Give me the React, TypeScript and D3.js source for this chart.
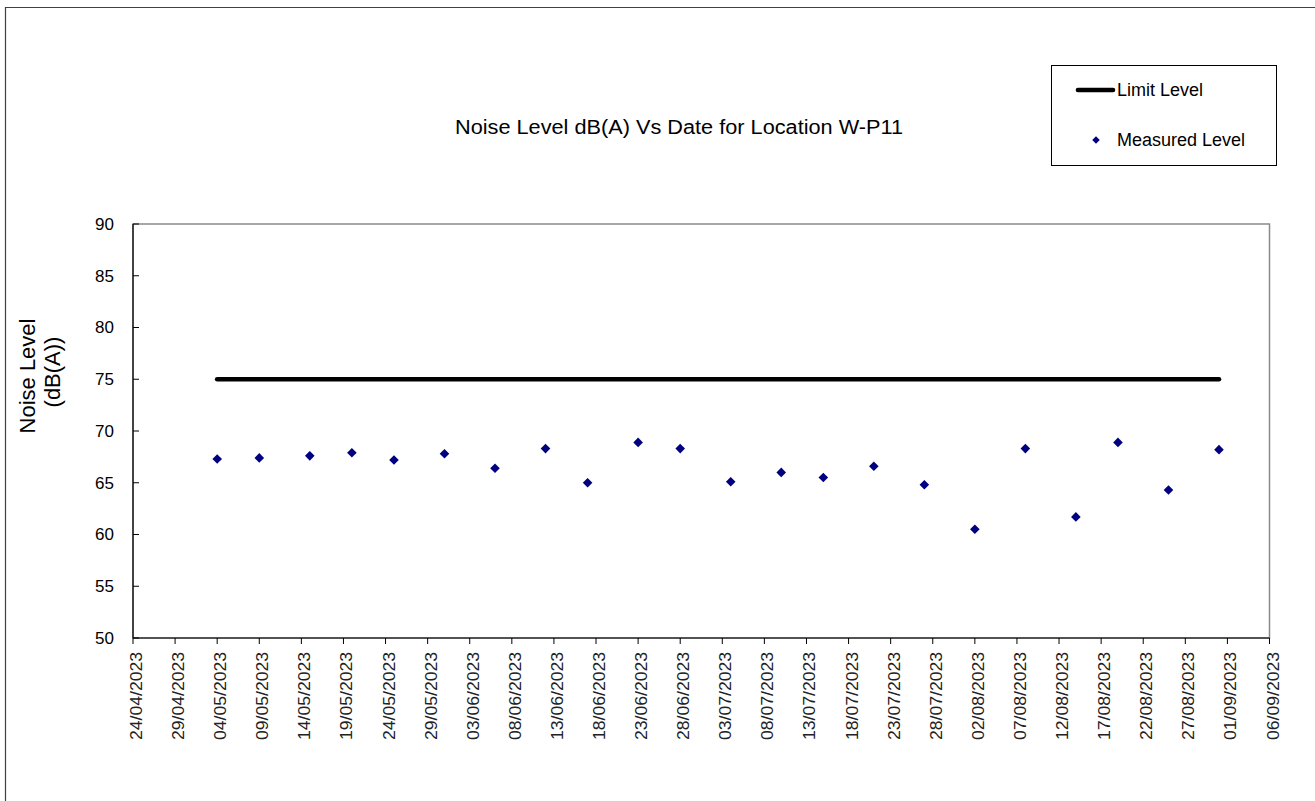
import React from "react";
import * as d3 from "d3";

const measureDates = ["04/05/2023","09/05/2023","15/05/2023","20/05/2023","25/05/2023","31/05/2023","06/06/2023","12/06/2023","17/06/2023","23/06/2023","28/06/2023","04/07/2023","10/07/2023","15/07/2023","21/07/2023","27/07/2023","02/08/2023","08/08/2023","14/08/2023","19/08/2023","25/08/2023","31/08/2023"];
const measuredLevel = [67.3,67.4,67.6,67.9,67.2,67.8,66.4,68.3,65.0,68.9,68.3,65.1,66.0,65.5,66.6,64.8,60.5,68.3,61.7,68.9,64.3,68.2];
const limitLevel = [75,75,75,75,75,75,75,75,75,75,75,75,75,75,75,75,75,75,75,75,75,75];
const xTickLabels = ["24/04/2023","29/04/2023","04/05/2023","09/05/2023","14/05/2023","19/05/2023","24/05/2023","29/05/2023","03/06/2023","08/06/2023","13/06/2023","18/06/2023","23/06/2023","28/06/2023","03/07/2023","08/07/2023","13/07/2023","18/07/2023","23/07/2023","28/07/2023","02/08/2023","07/08/2023","12/08/2023","17/08/2023","22/08/2023","27/08/2023","01/09/2023","06/09/2023"];
const yTicks = [50,55,60,65,70,75,80,85,90];

const parse = d3.utcParse("%d/%m/%Y");
const FONT = "'Liberation Sans', Arial, sans-serif";

export default function App() {
  const left = 133, right = 1269.5, top = 224, bottom = 638;
  const tickDates = xTickLabels.map((s) => parse(s) as Date);
  const x = d3.scaleUtc().domain([tickDates[0], tickDates[tickDates.length - 1]]).range([left, right]);
  const y = d3.scaleLinear().domain([50, 90]).range([bottom, top]);
  const pts = measureDates.map((s, i) => ({ d: parse(s) as Date, v: measuredLevel[i], l: limitLevel[i] }));
  const line = d3.line<any>().x((p) => x(p.d)).y((p) => y(p.l));
  const diamond = d3.symbol().type(d3.symbolSquare).size(46)() as string;
  const diamondLegend = d3.symbol().type(d3.symbolSquare).size(28)() as string;

  return (
    <svg width={1315} height={801} style={{ position: "absolute", left: 0, top: 0, background: "#fff" }} fontFamily={FONT}>
      <rect x={0} y={0} width={1315} height={801} fill="#fff" />
      <path d="M5.5,801 V7.5 H1315" fill="none" stroke="#404040" strokeWidth={1.2} />

      <text x={679} y={134} textAnchor="middle" fontSize={20} textLength={448} lengthAdjust="spacingAndGlyphs" fill="#000">
        Noise Level dB(A) Vs Date for Location W-P11
      </text>

      {/* plot area border */}
      <rect x={left} y={top} width={right - left} height={bottom - top} fill="none" stroke="#8a8a8a" strokeWidth={1.5} />
      <line x1={left} x2={left} y1={top} y2={bottom} stroke="#000" strokeWidth={1.2} />
      <line x1={left} x2={right} y1={bottom} y2={bottom} stroke="#000" strokeWidth={1.2} />

      {yTicks.map((t) => (
        <g key={t}>
          <line x1={left} x2={left + 6} y1={y(t)} y2={y(t)} stroke="#000" strokeWidth={1} />
          <text x={114} y={y(t)} dy="0.35em" textAnchor="end" fontSize={17} fill="#000">{t}</text>
        </g>
      ))}

      {tickDates.map((d, i) => (
        <g key={i}>
          <line x1={x(d)} x2={x(d)} y1={bottom} y2={bottom + 6} stroke="#000" strokeWidth={1} />
          <text transform={`translate(${x(d) + 9},652) rotate(-90)`} textAnchor="end" fontSize={16} textLength={88} lengthAdjust="spacingAndGlyphs" fill="#222">
            {xTickLabels[i]}
          </text>
        </g>
      ))}

      <text transform="translate(35,376) rotate(-90)" textAnchor="middle" fontSize={22} fill="#000">Noise Level</text>
      <text transform="translate(60,372) rotate(-90)" textAnchor="middle" fontSize={22} fill="#000">(dB(A))</text>

      <path d={line(pts) as string} fill="none" stroke="#000" strokeWidth={4.6} strokeLinecap="round" />

      {pts.map((p, i) => (
        <path key={i} d={diamond} transform={`translate(${x(p.d)},${y(p.v)}) rotate(45)`} fill="#000080" />
      ))}

      {/* legend */}
      <rect x={1051.5} y={65.5} width={225} height={100} fill="#fff" stroke="#000" strokeWidth={1} />
      <line x1={1078} x2={1113} y1={90} y2={90} stroke="#000" strokeWidth={4.6} strokeLinecap="round" />
      <text x={1117} y={96} fontSize={18} fill="#000">Limit Level</text>
      <path d={diamondLegend} transform="translate(1096,140) rotate(45)" fill="#000080" />
      <text x={1117} y={146} fontSize={18} fill="#000">Measured Level</text>
    </svg>
  );
}
